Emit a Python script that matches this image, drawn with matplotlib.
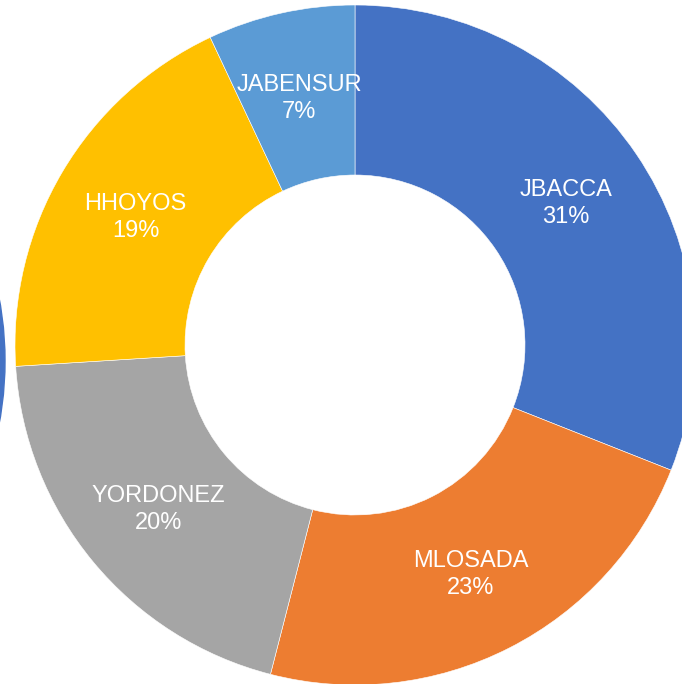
import numpy as np
import matplotlib.pyplot as plt
from matplotlib.patches import Wedge

plt.rcParams["font.family"] = ["Liberation Sans", "DejaVu Sans"]

# share of records per user
users = ["JBACCA", "MLOSADA", "YORDONEZ", "HHOYOS", "JABENSUR"]
shares = [31, 23, 20, 19, 7]
colors = ["#4472C4", "#ED7D31", "#A5A5A5", "#FFC000", "#5B9BD5"]

W, H = 682, 684
fig = plt.figure(figsize=(W / 100, H / 100), dpi=100)
ax = fig.add_axes([0, 0, 1, 1])

cx, cy = 355, 339
R = 340
ring = 170

wedges, _ = ax.pie(
    shares,
    colors=colors,
    startangle=90,
    counterclock=False,
    radius=R,
    center=(cx, cy),
    wedgeprops=dict(width=ring, edgecolor="white", linewidth=0.4),
    frame=True,
)
ax.set_xlim(0, W)
ax.set_ylim(0, H)
ax.set_aspect("equal")
ax.axis("off")

total = sum(shares)
for w, name, val in zip(wedges, users, shares):
    mid = np.deg2rad((w.theta1 + w.theta2) / 2)
    r = R - ring / 2
    ax.text(cx + r * np.cos(mid), cy + r * np.sin(mid) - 2,
            f"{name}\n{val / total:.0%}",
            ha="center", va="center", color="white", fontsize=17,
            linespacing=1.3)

# edge of the neighbouring chart peeking in from the left
ax.add_patch(Wedge((5 - R, cy - 16), R, -15, 15, width=ring, color="#4472C4"))

fig.savefig("out.png", dpi=100)
